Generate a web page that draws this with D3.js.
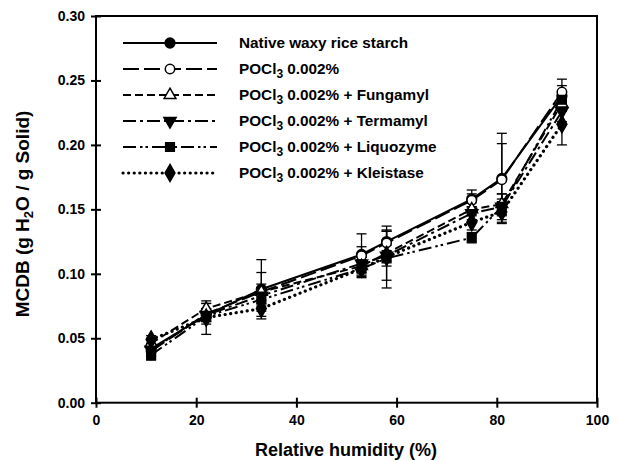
<!DOCTYPE html>
<html>
<head>
<meta charset="utf-8">
<script src="https://cdn.jsdelivr.net/npm/d3@7"></script>
<style>
  body { margin: 0; background: #fff; }
  svg { font-family: "Liberation Sans", Arial, sans-serif; font-weight: bold; }
</style>
</head>
<body>
<div id="chart"></div>
<script>
// relative humidity (%)
const rh = [11, 22, 33, 53, 58, 75, 81, 93];

const native    = [0.042, 0.068, 0.088, 0.115, 0.125, 0.158, 0.174, 0.238];
const pocl3     = [0.040, 0.069, 0.086, 0.114, 0.124, 0.157, 0.173, 0.241];
const fungamyl  = [0.046, 0.073, 0.086, 0.106, 0.116, 0.150, 0.154, 0.232];
const termamyl  = [0.041, 0.068, 0.083, 0.108, 0.114, 0.147, 0.152, 0.226];
const liquozyme = [0.037, 0.067, 0.080, 0.104, 0.112, 0.128, 0.152, 0.235];
const kleistase = [0.049, 0.066, 0.073, 0.104, 0.113, 0.140, 0.148, 0.216];

const nativeErr    = [0.004, 0.005, 0.023, 0.006, 0.008, 0.007, 0.035, 0.008];
const pocl3Err     = [0.004, 0.008, 0.015, 0.017, 0.010, 0.005, 0.028, 0.010];
const fungamylErr  = [0.004, 0.004, 0.006, 0.005, 0.006, 0.005, 0.008, 0.006];
const termamylErr  = [0.004, 0.005, 0.006, 0.005, 0.019, 0.005, 0.006, 0.008];
const liquozymeErr = [0.004, 0.004, 0.005, 0.006, 0.006, 0.004, 0.010, 0.006];
const kleistaseErr = [0.003, 0.013, 0.006, 0.005, 0.024, 0.006, 0.008, 0.016];

const xTicks = [0, 20, 40, 60, 80, 100];
const yTicks = [0, 0.05, 0.10, 0.15, 0.20, 0.25, 0.30];

// series: label suffix after "POCl3" (poc = true), values, errors, marker, dash
const series = [
  { name: "Native waxy rice starch", poc: false, values: native, err: nativeErr, symbol: d3.symbolCircle, size: 75, fill: "#000", dash: null },
  { name: " 0.002%", poc: true, values: pocl3, err: pocl3Err, symbol: d3.symbolCircle, size: 70, fill: "#fff", dash: "16,5" },
  { name: " 0.002% + Fungamyl", poc: true, values: fungamyl, err: fungamylErr, symbol: d3.symbolTriangle, size: 60, fill: "#fff", dash: "8,4" },
  { name: " 0.002% + Termamyl", poc: true, values: termamyl, err: termamylErr, symbol: d3.symbolTriangle, size: 65, fill: "#000", dash: "13,4,3,4", flip: true },
  { name: " 0.002% + Liquozyme", poc: true, values: liquozyme, err: liquozymeErr, symbol: d3.symbolSquare, size: 75, fill: "#000", dash: "13,4,2.5,3,2.5,4" },
  { name: " 0.002% + Kleistase", poc: true, values: kleistase, err: kleistaseErr, symbol: d3.symbolDiamond, size: 85, fill: "#000", dash: "0.1,5.5", dotted: true }
];

const W = 621, H = 461;
const svg = d3.select("#chart").append("svg")
  .attr("width", W).attr("height", H);

const x = d3.scaleLinear().domain([0, 100]).range([96, 597]);
const y = d3.scaleLinear().domain([0, 0.30]).range([402.7, 16]);

// frame
svg.append("rect")
  .attr("x", x(0)).attr("y", y(0.30))
  .attr("width", x(100) - x(0)).attr("height", y(0) - y(0.30))
  .attr("fill", "none").attr("stroke", "#000").attr("stroke-width", 2);

// y axis
const yAxis = d3.axisLeft(y).tickValues(yTicks).tickFormat(d3.format(".2f")).tickSizeInner(5).tickSizeOuter(0);
const gy = svg.append("g").attr("transform", `translate(${x(0)},0)`).call(yAxis);
gy.select(".domain").remove();
gy.selectAll(".tick line").attr("x2", -5).attr("x1", 5).attr("stroke-width", 2);
gy.selectAll(".tick text").attr("x", -11).attr("font-size", 14).attr("font-weight", "bold")
  .attr("font-family", "Liberation Sans, Arial, sans-serif");

// x axis
const xAxis = d3.axisBottom(x).tickValues(xTicks).tickSizeInner(5).tickSizeOuter(0);
const gx = svg.append("g").attr("transform", `translate(0,${y(0)})`).call(xAxis);
gx.select(".domain").remove();
gx.selectAll(".tick line").attr("y1", -5).attr("y2", 5).attr("stroke-width", 2);
gx.selectAll(".tick text").attr("y", 12).attr("font-size", 14).attr("font-weight", "bold")
  .attr("font-family", "Liberation Sans, Arial, sans-serif");

// axis titles
svg.append("text")
  .attr("x", 346).attr("y", 456)
  .attr("text-anchor", "middle").attr("font-size", 18)
  .text("Relative humidity (%)");

const yt = svg.append("text")
  .attr("transform", "translate(29,214) rotate(-90)")
  .attr("text-anchor", "middle").attr("font-size", 19);
yt.append("tspan").text("MCDB (g H");
yt.append("tspan").attr("font-size", 13).attr("dy", 4).text("2");
yt.append("tspan").attr("dy", -4).text("O / g Solid)");

// error bars
const cap = 5;
series.forEach(s => {
  const g = svg.append("g").attr("stroke", "#000").attr("stroke-width", 1.3);
  s.values.forEach((v, i) => {
    const cx = x(rh[i]), top = y(v + s.err[i]), bot = y(v - s.err[i]);
    g.append("line").attr("x1", cx).attr("x2", cx).attr("y1", top).attr("y2", bot);
    g.append("line").attr("x1", cx - cap).attr("x2", cx + cap).attr("y1", top).attr("y2", top);
    g.append("line").attr("x1", cx - cap).attr("x2", cx + cap).attr("y1", bot).attr("y2", bot);
  });
});

// lines
const line = d3.line().x((d, i) => x(rh[i])).y(d => y(d));
series.forEach(s => {
  svg.append("path")
    .attr("d", line(s.values))
    .attr("fill", "none").attr("stroke", "#000")
    .attr("stroke-width", s.dotted ? 3.2 : 2)
    .attr("stroke-linecap", s.dotted ? "round" : "butt")
    .attr("stroke-dasharray", s.dash);
});

// markers
function marker(g, s, cx, cy) {
  g.append("path")
    .attr("d", d3.symbol().type(s.symbol).size(s.size)())
    .attr("transform", `translate(${cx},${cy})` + (s.flip ? " rotate(180)" : ""))
    .attr("fill", s.fill).attr("stroke", "#000").attr("stroke-width", 1.5);
}
series.forEach(s => {
  const g = svg.append("g");
  s.values.forEach((v, i) => marker(g, s, x(rh[i]), y(v)));
});

// legend
const legend = svg.append("g");
series.forEach((s, i) => {
  const ly = 43 + i * 26;
  legend.append("line")
    .attr("x1", 123).attr("x2", 217).attr("y1", ly).attr("y2", ly)
    .attr("stroke", "#000")
    .attr("stroke-width", s.dotted ? 3.2 : 2)
    .attr("stroke-linecap", s.dotted ? "round" : "butt")
    .attr("stroke-dasharray", s.dash);
  marker(legend, s, 170, ly);
  const t = legend.append("text")
    .attr("x", 239).attr("y", ly + 5).attr("font-size", 15.3);
  if (s.poc) {
    t.append("tspan").text("POCl");
    t.append("tspan").attr("font-size", 12).attr("dy", 4).text("3");
    t.append("tspan").attr("dy", -4).text(s.name);
  } else {
    t.text(s.name);
  }
});
</script>
</body>
</html>
